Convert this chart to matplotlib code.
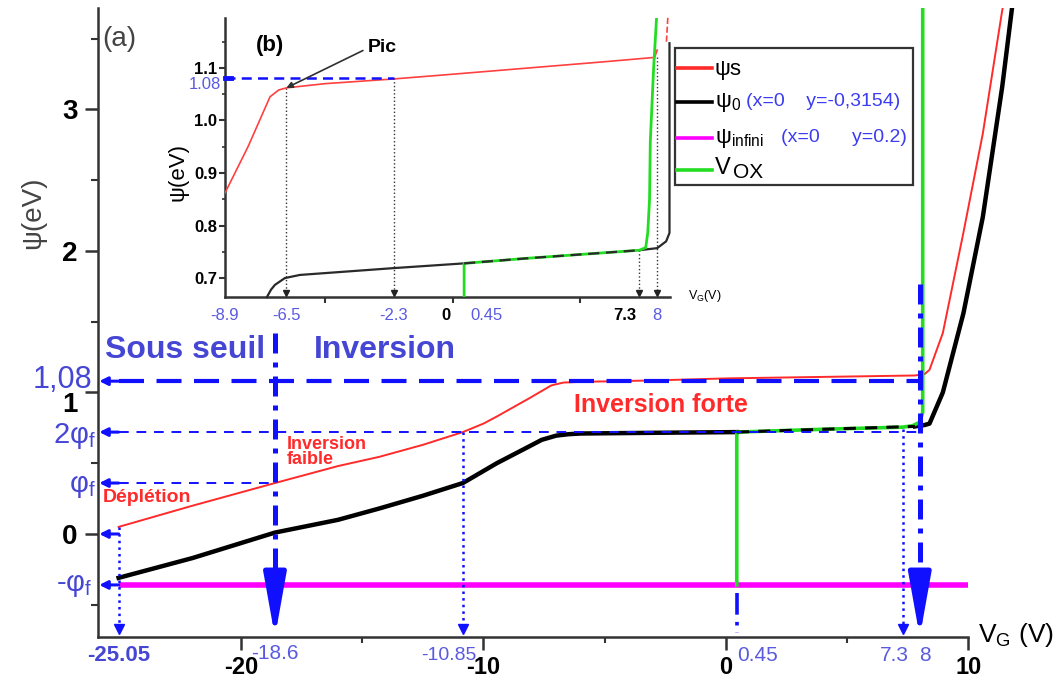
import matplotlib
matplotlib.use("Agg")
import matplotlib.pyplot as plt
import matplotlib.transforms as mtransforms
from matplotlib.lines import Line2D
from matplotlib.patches import Rectangle
import numpy as np

plt.rcParams["font.family"] = ["Liberation Sans", "DejaVu Sans"]
plt.rcParams["mathtext.fontset"] = "custom"
plt.rcParams["mathtext.rm"] = "Liberation Sans"
plt.rcParams["mathtext.it"] = "Liberation Sans:italic"
plt.rcParams["mathtext.bf"] = "Liberation Sans:bold"

# (a) potentials versus gate voltage
vg_s = [-25.05, -22.0, -18.6, -16.0, -14.3, -12.5, -10.85, -10.0, -9.45, -8.1, -7.6, -7.2,
        -6.7, -6.0, -3.0, 0.16, 4.0, 7.8, 8.2, 8.4, 8.95, 9.8, 10.6, 11.4, 11.5]
psi_s = [0.05, 0.20, 0.36, 0.48, 0.545, 0.63, 0.72, 0.78, 0.83, 0.96, 1.01, 1.05,
         1.07, 1.075, 1.085, 1.10, 1.11, 1.12, 1.13, 1.16, 1.42, 2.13, 2.83, 3.70, 3.78]

vg_0 = [-25.05, -22.0, -18.6, -16.0, -14.3, -12.5, -10.85, -9.45, -8.1, -7.6, -7.0, -6.5,
        -6.0, -3.0, 0.45, 4.0, 7.8, 8.2, 8.4, 8.95, 9.8, 10.6, 11.4, 11.85]
psi_0 = [-0.31, -0.17, 0.01, 0.10, 0.18, 0.27, 0.36, 0.50, 0.62, 0.665, 0.695, 0.705,
         0.71, 0.715, 0.72, 0.74, 0.76, 0.77, 0.78, 1.00, 1.56, 2.24, 3.16, 3.78]

vg_inf = [-25.05, 10.0]
psi_inf = [-0.36, -0.36]

vg_ox = [0.45, 0.45, 4.0, 7.3, 7.7, 8.0, 8.12, 8.12]
v_ox = [-0.36, 0.72, 0.74, 0.755, 0.765, 0.79, 0.86, 3.75]

phi_f = 0.36
two_phi_f = 0.72
psi_pic = 1.08

vg_dep = -25.05
vg_weak = -18.6
vg_2phi = -10.85
vg_ox0 = 0.45
vg_73 = 7.3
vg_strong = 8.0

# (b) zoom on the inversion region
in_vg_s = [-8.9, -8.0, -7.14, -6.8, -6.5, -5.0, -2.3, 0.0, 3.0, 6.0, 7.9, 8.0]
in_psi_s = [0.862, 0.95, 1.045, 1.058, 1.062, 1.07, 1.079, 1.088, 1.10, 1.112, 1.12, 1.134]
in_vg_s_top = [8.36, 8.42]
in_psi_s_top = [1.15, 1.20]

in_vg_0 = [-7.26, -7.1, -6.95, -6.56, -5.97, -2.3, 0.45, 3.0, 7.3, 8.0, 8.35, 8.48, 8.48]
in_psi_0 = [0.664, 0.678, 0.687, 0.70, 0.706, 0.719, 0.728, 0.738, 0.753, 0.757, 0.77, 0.786, 1.147]

in_vg_ox = [0.45, 0.45, 3.0, 7.3, 7.55, 7.63, 7.7, 7.73, 7.86, 7.98]
in_v_ox = [0.664, 0.728, 0.738, 0.753, 0.758, 0.786, 0.85, 0.96, 1.10, 1.20]

in_ticks = [-8.9, -6.5, -2.3, 0, 0.45, 7.3, 8]
in_tick_labels = ["-8.9", "-6.5", "-2.3", "0", "0.45", "7.3", "8"]
in_tick_blue = [True, True, True, False, True, False, True]
in_tick_align = ["center", "center", "center", "right", "left", "right", "center"]

RED = "#ff2a2a"
BLUE = "#1010ff"
TBLUE = "#4646d4"
LBLUE = "#5a5ae0"
GREEN = "#22dd22"
MAGENTA = "#ff00ff"
AXC = "#333333"

W, H = 1060, 681


def fx(px):
    return px / W


def fy(py):
    return 1 - py / H


fig = plt.figure(figsize=(W / 100, H / 100), dpi=100)
ax = fig.add_axes([fx(98), fy(637), fx(1041) - fx(98), fy(8) - fy(637)])
ax.set_xlim(-25.9, 13.0)
ax.set_ylim(-0.728, 3.717)
for s in ("top", "right"):
    ax.spines[s].set_visible(False)
for s in ("left", "bottom"):
    ax.spines[s].set_linewidth(1.8)
    ax.spines[s].set_color(AXC)
ax.spines["bottom"].set_bounds(-25.9, 10)

ax.set_xticks([-20, -10, 0, 10])
ax.set_xticklabels(["-20", "-10", "0", "10"], fontsize=17, fontweight="bold")
ax.set_xticks([-15, -5, 5], minor=True)
ax.set_yticks([0, 1, 2, 3])
ax.set_yticklabels(["0", "1", "2", "3"], fontsize=20, fontweight="bold")
ax.set_yticks([-0.5, 0.5, 1.5, 2.5, 3.5], minor=True)
ax.tick_params(axis="x", which="major", length=9, width=1.8, color=AXC, pad=5)
ax.tick_params(axis="x", which="minor", length=4, width=1.5, color=AXC)
ax.tick_params(axis="y", which="major", length=9.5, width=1.8, color=AXC, pad=5)
ax.tick_params(axis="y", which="minor", length=5, width=1.5, color=AXC)
# the "1" label sits a little under its tick, below the 1,08 mark
one = ax.get_yticklabels()[1]
one.set_transform(one.get_transform() + mtransforms.ScaledTranslation(0, -7 / 72, fig.dpi_scale_trans))

# curves
ax.plot(vg_inf, psi_inf, color=MAGENTA, lw=4, zorder=3, solid_capstyle="butt")
ax.plot(vg_s, psi_s, color=RED, lw=1.4, zorder=4)
v0 = np.array(vg_0)
p0 = np.array(psi_0)
left = v0 <= vg_ox0
right = v0 >= 7.8
flat = (v0 >= vg_ox0) & (v0 <= 7.8)
ax.plot(v0[left], p0[left], color="black", lw=3.2, zorder=4)
ax.plot(v0[right], p0[right], color="black", lw=3.2, zorder=4)
ax.plot(vg_ox, v_ox, color=GREEN, lw=2.6, zorder=5)
ax.plot(v0[flat], p0[flat], color="black", lw=2.2, ls=(0, (4, 3)), zorder=6)

# reference levels with arrows to the potential axis
ax.plot([vg_dep, vg_strong], [psi_pic, psi_pic], color=BLUE, lw=3, ls=(0, (6, 3)), zorder=7)
ax.plot([vg_dep, vg_strong], [two_phi_f, two_phi_f], color=BLUE, lw=1.4, ls=(0, (5, 4)), zorder=7)
ax.plot([vg_dep, vg_weak], [phi_f, phi_f], color=BLUE, lw=1.4, ls=(0, (5, 4)), zorder=7)
for y in (psi_pic, two_phi_f, phi_f, 0.0, -phi_f):
    ax.annotate("", xy=(-25.85, y), xytext=(vg_dep, y),
                arrowprops=dict(arrowstyle="-|>", color=BLUE, lw=2.2, mutation_scale=12,
                                shrinkA=0, shrinkB=0), zorder=8)

# dotted drop lines to the gate voltage axis
for v, top in ((vg_dep, psi_s[0]), (vg_2phi, two_phi_f), (vg_73, 0.74)):
    ax.plot([v, v], [top, -0.66], color=BLUE, lw=1.8, ls=":", zorder=7)
    ax.plot([v], [-0.67], marker="v", color=BLUE, ms=7, zorder=7)

# thick dash-dot limits of the regimes
for v, top in ((vg_weak, 1.42), (vg_strong, 1.77)):
    ax.plot([v, v], [top, -0.47], color=BLUE, lw=3.6, ls=(0, (4, 1.8, 1, 1.8)), zorder=8)
    ax.annotate("", xy=(v, -0.728), xytext=(v, -0.47),
                arrowprops=dict(arrowstyle="-|>,head_length=1.9,head_width=0.34", color=BLUE,
                                lw=3.6, mutation_scale=20, shrinkA=0, shrinkB=0),
                annotation_clip=False, zorder=8)
ax.plot([vg_ox0, vg_ox0], [-0.42, -0.70], color=BLUE, lw=2.6, ls=(0, (6, 2, 1, 2)), zorder=7)

# labels of the marked voltages
xb = mtransforms.blended_transform_factory(ax.transData, ax.transAxes)
ax.text(vg_dep, -0.029, "-25.05", transform=xb, ha="center", va="center", fontsize=16,
        fontweight="bold", color=TBLUE)
ax.text(vg_weak, -0.026, "-18.6", transform=xb, ha="center", va="center", fontsize=15, color=LBLUE)
ax.text(-10.3, -0.029, "-10.85", transform=xb, ha="right", va="center", fontsize=14, color=LBLUE)
ax.text(vg_ox0, -0.03, "0.45", transform=xb, ha="left", va="center", fontsize=15, color=LBLUE)
ax.text(7.55, -0.03, "7.3", transform=xb, ha="right", va="center", fontsize=15, color=LBLUE)
ax.text(8.2, -0.03, "8", transform=xb, ha="center", va="center", fontsize=15, color=LBLUE)

# labels of the reference levels
yb = mtransforms.blended_transform_factory(ax.transAxes, ax.transData)
ax.text(-0.006, psi_pic + 0.01, "1,08", transform=yb, ha="right", va="center", fontsize=22, color=TBLUE)
ax.text(-0.002, two_phi_f - 0.03, "2φ$_\\mathrm{f}$", transform=yb, ha="right", va="center",
        fontsize=21, color=TBLUE)
ax.text(-0.002, phi_f - 0.02, "φ$_\\mathrm{f}$", transform=yb, ha="right", va="center",
        fontsize=21, color=TBLUE)
ax.text(-0.006, -phi_f, "-φ$_\\mathrm{f}$", transform=yb, ha="right", va="center",
        fontsize=21, color=TBLUE)

# regimes
ax.text(-22.3, 1.30, "Sous seuil", ha="center", va="center", fontsize=23, fontweight="bold", color=TBLUE)
ax.text(-14.06, 1.30, "Inversion", ha="center", va="center", fontsize=23, fontweight="bold", color=TBLUE)
ax.text(-2.68, 0.91, "Inversion forte", ha="center", va="center", fontsize=18, fontweight="bold", color=RED)
ax.text(-18.1, 0.58, "Inversion\nfaible", ha="left", va="center", fontsize=13, fontweight="bold",
        color=RED, linespacing=0.85)
ax.text(-25.7, 0.26, "Déplétion", ha="left", va="center", fontsize=14, fontweight="bold", color=RED)

fig.text(fx(33), fy(213), "ψ(eV)", rotation=90, ha="center", va="center", fontsize=20, color="#444444")
fig.text(fx(102), fy(39), "(a)", ha="left", va="center", fontsize=20, color="#444444")
fig.text(fx(978), fy(635), "V$_\\mathrm{G}$ (V)", ha="left", va="center", fontsize=19)

# inset (b)
axi = fig.add_axes([fx(225), fy(297), fx(670) - fx(225), fy(18) - fy(297)])
axi.set_facecolor("none")
axi.set_xlim(-8.9, 8.5)
axi.set_ylim(0.664, 1.195)
for s in ("top", "right"):
    axi.spines[s].set_visible(False)
for s in ("left", "bottom"):
    axi.spines[s].set_linewidth(1.8)
    axi.spines[s].set_color(AXC)
axi.set_xticks([-5, 0, 5])
axi.set_xticklabels([])
axi.tick_params(axis="x", which="major", length=4, width=1.5, color=AXC)
ixb = mtransforms.blended_transform_factory(axi.transData, axi.transAxes)
for v, lab, is_blue, al in zip(in_ticks, in_tick_labels, in_tick_blue, in_tick_align):
    dx = {"left": 0.25, "right": -0.1, "center": 0.0}[al]
    axi.text(v + dx, -0.065, lab, transform=ixb, ha=al, va="center", fontsize=12,
             color=LBLUE if is_blue else "black", fontweight="normal" if is_blue else "bold")
axi.set_yticks([0.7, 0.8, 0.9, 1.0, 1.1])
axi.set_yticklabels(["0.7", "0.8", "0.9", "1.0", "1.1"], fontsize=12, fontweight="bold")
axi.set_yticks([0.75, 0.85, 0.95, 1.05, 1.15], minor=True)
axi.tick_params(axis="y", which="major", length=4, width=1.5, color=AXC, pad=1.5)
axi.tick_params(axis="y", which="minor", length=2.5, width=1.2, color=AXC)

axi.plot(in_vg_s, in_psi_s, color="#ff4040", lw=1.2, zorder=4)
axi.plot(in_vg_s_top, in_psi_s_top, color="#ff4040", lw=1.2, ls="--", zorder=4, clip_on=False)
iv0 = np.array(in_vg_0)
ip0 = np.array(in_psi_0)
ileft = iv0 <= vg_ox0
iright = iv0 >= vg_73
iflat = (iv0 >= vg_ox0) & (iv0 <= vg_73)
axi.plot(iv0[ileft], ip0[ileft], color="#2a2a2a", lw=1.6, zorder=4, clip_on=False)
axi.plot(iv0[iright], ip0[iright], color="#2a2a2a", lw=1.6, zorder=4, clip_on=False)
axi.plot(in_vg_ox, in_v_ox, color=GREEN, lw=2.0, zorder=5)
axi.plot(iv0[iflat], ip0[iflat], color="#2a2a2a", lw=1.6, ls=(0, (5, 3)), zorder=6)

for v, top in ((-6.5, 1.062), (-2.3, 1.08), (vg_73, 0.753), (vg_strong, 1.12)):
    axi.plot([v, v], [top, 0.672], color="#333333", lw=1.0, ls=":", zorder=3)
    axi.plot([v], [0.672], marker="v", color="#222222", ms=5, zorder=3)

axi.plot([-8.9, -2.3], [psi_pic, psi_pic], color=BLUE, lw=1.8, ls=(0, (4, 2.5)), zorder=6)
axi.plot([-8.9, -8.65], [psi_pic, psi_pic], color=BLUE, lw=3.5, zorder=6, clip_on=False)
axi.annotate("Pic", xy=(-6.5, 1.062), xytext=(-3.3, 1.138), fontsize=14, fontweight="bold",
             va="center", ha="left",
             arrowprops=dict(arrowstyle="-|>", color="#303030", lw=1.2, mutation_scale=9,
                             shrinkA=2, shrinkB=0, relpos=(0, 0.5)), zorder=7)
axi.text(-7.14, 1.143, "(b)", ha="center", va="center", fontsize=16, fontweight="bold")
iyb = mtransforms.blended_transform_factory(axi.transAxes, axi.transData)
axi.text(-0.008, 1.068, "1.08", transform=iyb, ha="right", va="center", fontsize=12, color=LBLUE)
fig.text(fx(178), fy(172), "ψ(eV)", rotation=90, ha="center", va="center", fontsize=16)
fig.text(fx(688), fy(296), "V$_\\mathrm{G}$(V)", ha="left", va="center", fontsize=9)

# legend box of the inset
fig.add_artist(Rectangle((fx(675), fy(185)), fx(913) - fx(675), fy(48) - fy(185),
                         transform=fig.transFigure, fill=False, ec=AXC, lw=1.6))
legend_rows = [(68, RED), (102, "black"), (138, MAGENTA), (170, GREEN)]
for y, c in legend_rows:
    fig.add_artist(Line2D([fx(677), fx(712)], [fy(y), fy(y)], color=c, lw=2.6,
                          transform=fig.transFigure))
fig.text(fx(715), fy(70), "ψs", ha="left", va="center", fontsize=16)
fig.text(fx(715), fy(103), "ψ$_0$", ha="left", va="center", fontsize=16)
fig.text(fx(746), fy(101), "(x=0    y=-0,3154)", ha="left", va="center", fontsize=14, color="#3c3cf0")
fig.text(fx(715), fy(139), "ψ$_\\mathrm{infini}$", ha="left", va="center", fontsize=16)
fig.text(fx(781), fy(138), "(x=0      y=0.2)", ha="left", va="center", fontsize=14, color="#3c3cf0")
fig.text(fx(715), fy(168), "V", ha="left", va="center", fontsize=17)
fig.text(fx(733), fy(173), "OX", ha="left", va="center", fontsize=15)

fig.savefig("out.png", dpi=100)
